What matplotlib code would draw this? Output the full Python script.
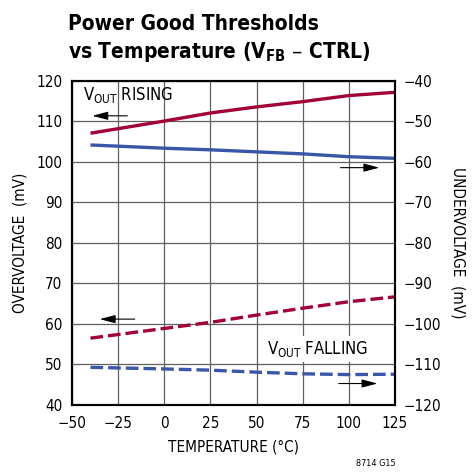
import matplotlib
matplotlib.use('Agg')
import matplotlib.pyplot as plt
import numpy as np

plt.rcParams['font.family'] = ['DejaVu Sans']
plt.rcParams['font.stretch'] = 'condensed'

# temperatures (C)
temp = [-40, 0, 25, 50, 75, 100, 125]
# overvoltage, left axis (mV)
ov_rising = [107.1, 110.1, 112.1, 113.6, 114.9, 116.4, 117.2]
ov_falling = [56.5, 58.9, 60.4, 62.2, 63.9, 65.5, 66.7]
# undervoltage, right axis (mV)
uv_rising = [-55.8, -56.6, -57.0, -57.5, -58.0, -58.7, -59.1]
uv_falling = [-110.7, -111.1, -111.4, -111.9, -112.3, -112.5, -112.4]

xticks = [-50, -25, 0, 25, 50, 75, 100, 125]
yticks_left = [40, 50, 60, 70, 80, 90, 100, 110, 120]
yticks_right = [-120, -110, -100, -90, -80, -70, -60, -50, -40]

red = '#a3003a'
blue = '#3a56a8'

fig = plt.figure(figsize=(4.75, 4.73), dpi=100)
ax = fig.add_axes([0.1516, 0.1438, 0.68, 0.685])
ax2 = ax.twinx()

ax.set_xlim(-50, 125)
ax.set_ylim(40, 120)
ax2.set_ylim(-120, -40)
ax.set_xticks(xticks)
ax.set_yticks(yticks_left)
ax2.set_yticks(yticks_right)
ax.grid(True, color='#606060', lw=0.9)
ax.tick_params(axis='x', length=0, labelsize=11, pad=8)
ax.tick_params(axis='y', length=0, labelsize=11, pad=7)
ax2.tick_params(length=0, labelsize=11, pad=6)
for a in (ax, ax2):
    for s in a.spines.values():
        s.set_linewidth(1.5)
        s.set_color('black')

ax.plot(temp, ov_rising, color=red, lw=2.4, solid_capstyle='butt')
ax.plot(temp, ov_falling, color=red, lw=2.4, ls=(0, (3.8, 1.5)))
ax2.plot(temp, uv_rising, color=blue, lw=2.4, solid_capstyle='butt')
ax2.plot(temp, uv_falling, color=blue, lw=2.4, ls=(0, (3.8, 1.5)))

arrow = dict(arrowstyle='-|>,head_length=0.95,head_width=0.25', color='black', lw=0.8)
ax.annotate('', xy=(-40.5, 111.4), xytext=(-18.5, 111.4), arrowprops=arrow)
ax.annotate('', xy=(-36.5, 61.2), xytext=(-14.5, 61.2), arrowprops=arrow)
ax.annotate('', xy=(118, 98.6), xytext=(94, 98.6), arrowprops=arrow)
ax.annotate('', xy=(117, 45.3), xytext=(93, 45.3), arrowprops=arrow)

ax.text(-44, 116.5, r'V$_{\mathregular{OUT}}$ RISING', fontsize=12, va='center', ha='left')
ax.text(55.5, 53.8, r'V$_{\mathregular{OUT}}$ FALLING', fontsize=12, va='center', ha='left',
        bbox=dict(facecolor='white', edgecolor='none', pad=2))

ax.set_xlabel('TEMPERATURE (°C)', fontsize=11, labelpad=6)
ax.set_ylabel('OVERVOLTAGE  (mV)', fontsize=11, labelpad=6)
ax2.set_ylabel('UNDERVOLTAGE  (mV)', fontsize=11, rotation=270, labelpad=18)

fig.text(0.143, 0.937, 'Power Good Thresholds', fontsize=15, fontweight='bold', ha='left', va='baseline')
fig.text(0.143, 0.877, r'vs Temperature (V$_{\mathbf{FB}}$ – CTRL)', fontsize=15, fontweight='bold',
         ha='left', va='baseline')
fig.text(0.832, 0.01, '8714 G15', fontsize=6.5, ha='right', va='bottom')

fig.savefig('out.png', dpi=100)
